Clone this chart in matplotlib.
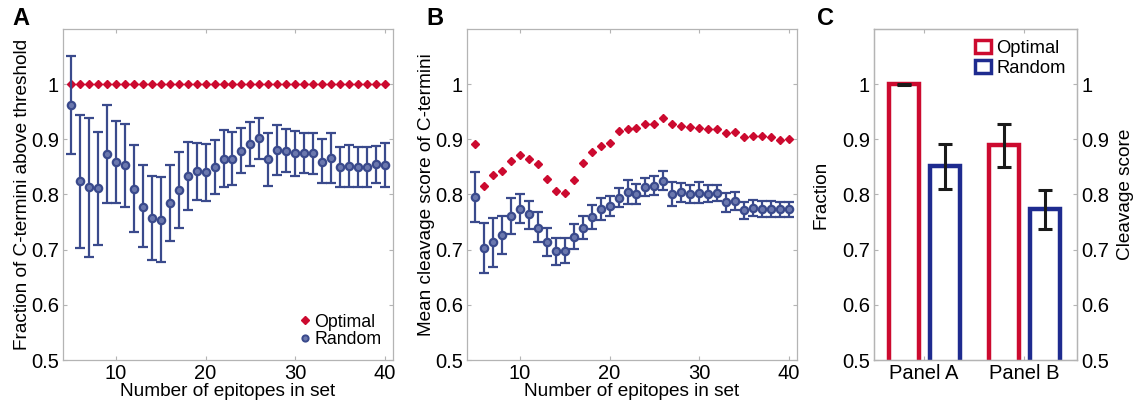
import numpy as np
import matplotlib.pyplot as plt
from matplotlib.patches import Patch
from matplotlib.lines import Line2D

plt.rcParams['font.family'] = ['Liberation Sans', 'DejaVu Sans']

# ---- data ----
n_epitopes = list(range(5, 41))

a_optimal = [1.0] * 36
a_random = [0.962, 0.824, 0.813, 0.811, 0.874, 0.859, 0.853, 0.810, 0.778, 0.757,
            0.754, 0.784, 0.809, 0.833, 0.842, 0.840, 0.850, 0.864, 0.865, 0.879,
            0.891, 0.902, 0.864, 0.880, 0.879, 0.875, 0.876, 0.876, 0.859, 0.866,
            0.850, 0.852, 0.850, 0.850, 0.855, 0.854]
a_random_hi = [1.051, 0.945, 0.938, 0.914, 0.963, 0.934, 0.928, 0.889, 0.853, 0.833,
               0.831, 0.854, 0.877, 0.896, 0.894, 0.891, 0.899, 0.917, 0.914, 0.920,
               0.932, 0.939, 0.912, 0.926, 0.918, 0.915, 0.912, 0.912, 0.900, 0.912,
               0.886, 0.889, 0.887, 0.886, 0.888, 0.893]
a_random_lo = [0.873, 0.703, 0.687, 0.708, 0.785, 0.784, 0.777, 0.732, 0.704, 0.682,
               0.677, 0.715, 0.739, 0.771, 0.790, 0.789, 0.800, 0.813, 0.817, 0.839,
               0.851, 0.864, 0.815, 0.835, 0.840, 0.834, 0.839, 0.838, 0.820, 0.820,
               0.814, 0.814, 0.814, 0.814, 0.821, 0.814]

b_optimal = [0.891, 0.816, 0.836, 0.843, 0.861, 0.871, 0.864, 0.856, 0.829, 0.806,
             0.803, 0.827, 0.857, 0.877, 0.888, 0.894, 0.916, 0.919, 0.920, 0.928,
             0.928, 0.938, 0.928, 0.925, 0.922, 0.920, 0.918, 0.919, 0.912, 0.913,
             0.905, 0.906, 0.906, 0.904, 0.899, 0.900]
b_random = [0.795, 0.703, 0.713, 0.727, 0.761, 0.774, 0.764, 0.740, 0.713, 0.697,
            0.697, 0.723, 0.740, 0.760, 0.773, 0.780, 0.794, 0.804, 0.801, 0.813,
            0.816, 0.825, 0.801, 0.804, 0.801, 0.803, 0.801, 0.803, 0.786, 0.789,
            0.771, 0.775, 0.774, 0.774, 0.773, 0.773]
b_random_hi = [0.841, 0.749, 0.758, 0.761, 0.793, 0.801, 0.789, 0.768, 0.739, 0.722,
               0.721, 0.746, 0.761, 0.781, 0.793, 0.798, 0.812, 0.826, 0.819, 0.830,
               0.833, 0.842, 0.822, 0.821, 0.818, 0.822, 0.817, 0.817, 0.803, 0.805,
               0.787, 0.790, 0.789, 0.789, 0.787, 0.787]
b_random_lo = [0.750, 0.657, 0.669, 0.692, 0.728, 0.748, 0.738, 0.713, 0.688, 0.673,
               0.675, 0.702, 0.719, 0.737, 0.753, 0.761, 0.777, 0.783, 0.783, 0.797,
               0.799, 0.808, 0.780, 0.787, 0.784, 0.784, 0.786, 0.788, 0.768, 0.772,
               0.756, 0.761, 0.760, 0.760, 0.759, 0.759]

c_groups = ['Panel A', 'Panel B']
c_optimal = [1.0, 0.889]
c_optimal_err = [0.001, 0.039]
c_random = [0.851, 0.773]
c_random_err = [0.041, 0.036]

RED = '#CC0A2F'
BLUE = '#3A4A8C'
BLUE_FACE = '#6B78AE'
BAR_BLUE = '#1E2B8F'
GREY = '#B4B4B4'
TICK_FS = 14.5
LABEL_FS = 13.7


def style_axes(ax):
    for s in ax.spines.values():
        s.set_color(GREY)
        s.set_linewidth(0.9)
    ax.tick_params(direction='in', length=3, color=GREY, labelsize=TICK_FS,
                   top=True, right=True, pad=3)
    ax.set_ylim(0.5, 1.1)
    ax.set_yticks([0.5, 0.6, 0.7, 0.8, 0.9, 1.0])
    ax.set_yticklabels(['0.5', '0.6', '0.7', '0.8', '0.9', '1'])


def scatter_panel(ax, opt, rnd, lo, hi):
    x = np.array(n_epitopes)
    rnd = np.array(rnd)
    yerr = [rnd - np.array(lo), np.array(hi) - rnd]
    ax.plot(x, opt, linestyle='none', marker='D', ms=4.5, color=RED, mec=RED)
    ax.errorbar(x, rnd, yerr=yerr, fmt='o', ms=5.3, mfc=BLUE_FACE, mec=BLUE,
                mew=1.6, ecolor=BLUE, elinewidth=1.6, capsize=3.5, capthick=1.6)
    style_axes(ax)
    ax.set_xlim(4.1, 40.9)
    ax.set_xticks([10, 20, 30, 40])
    ax.set_xlabel('Number of epitopes in set', fontsize=LABEL_FS, labelpad=0)


fig = plt.figure(figsize=(11.36, 4.01), dpi=100)
axA = fig.add_axes([63 / 1136, 41 / 401, 330 / 1136, 331 / 401])
axB = fig.add_axes([467 / 1136, 41 / 401, 330 / 1136, 331 / 401])
axC = fig.add_axes([874 / 1136, 41 / 401, 203 / 1136, 331 / 401])

scatter_panel(axA, a_optimal, a_random, a_random_lo, a_random_hi)
axA.set_ylabel('Fraction of C-termini above threshold', fontsize=LABEL_FS, labelpad=0)
legA = [Line2D([], [], linestyle='none', marker='D', ms=4, color=RED, label='Optimal'),
        Line2D([], [], linestyle='none', marker='o', ms=4.5, mfc=BLUE_FACE, mec=BLUE,
               mew=1.4, label='Random')]
axA.legend(handles=legA, loc='lower right', frameon=False, fontsize=12.8,
           handletextpad=0.0, handlelength=1.1, borderaxespad=0.25,
           labelspacing=0.05)

scatter_panel(axB, b_optimal, b_random, b_random_lo, b_random_hi)
axB.set_ylabel('Mean cleavage score of C-termini', fontsize=LABEL_FS, labelpad=0)

# panel C
pos = np.arange(1, len(c_groups) + 1)
w = 0.3
off = 0.205
axC.bar(pos - off, c_optimal, width=w, fill=False, edgecolor=RED, linewidth=3.2)
axC.bar(pos + off, c_random, width=w, fill=False, edgecolor=BAR_BLUE, linewidth=3.2)
axC.errorbar(pos - off, c_optimal, yerr=c_optimal_err, fmt='none', ecolor='#1a1a1a',
             elinewidth=2.2, capsize=5, capthick=2.2)
axC.errorbar(pos + off, c_random, yerr=c_random_err, fmt='none', ecolor='#1a1a1a',
             elinewidth=2.2, capsize=5, capthick=2.2)
style_axes(axC)
axC.set_xlim(0.5, 2.53)
axC.set_xticks(pos)
axC.set_xticklabels(c_groups)
axC.tick_params(axis='y', right=False)
axC.set_ylabel('Fraction', fontsize=LABEL_FS, labelpad=9)
axC2 = axC.twinx()
style_axes(axC2)
axC2.tick_params(left=False, top=False, bottom=False)
axC2.set_ylabel('Cleavage score', fontsize=LABEL_FS, labelpad=6)
axC2.set_xlim(axC.get_xlim())
legC = [Patch(facecolor='white', edgecolor=RED, linewidth=2.5, label='Optimal'),
        Patch(facecolor='white', edgecolor=BAR_BLUE, linewidth=2.5, label='Random')]
axC.legend(handles=legC, loc='upper right', frameon=False, fontsize=13.2,
           handlelength=0.9, handleheight=0.7, handletextpad=0.3,
           borderaxespad=0.2, labelspacing=0.15)

for lbl, xpx in [('A', 12), ('B', 426), ('C', 817)]:
    fig.text(xpx / 1136, 1 - 25 / 401, lbl, fontsize=17, fontweight='bold',
             va='baseline', ha='left')

fig.savefig('out.png', dpi=100)
